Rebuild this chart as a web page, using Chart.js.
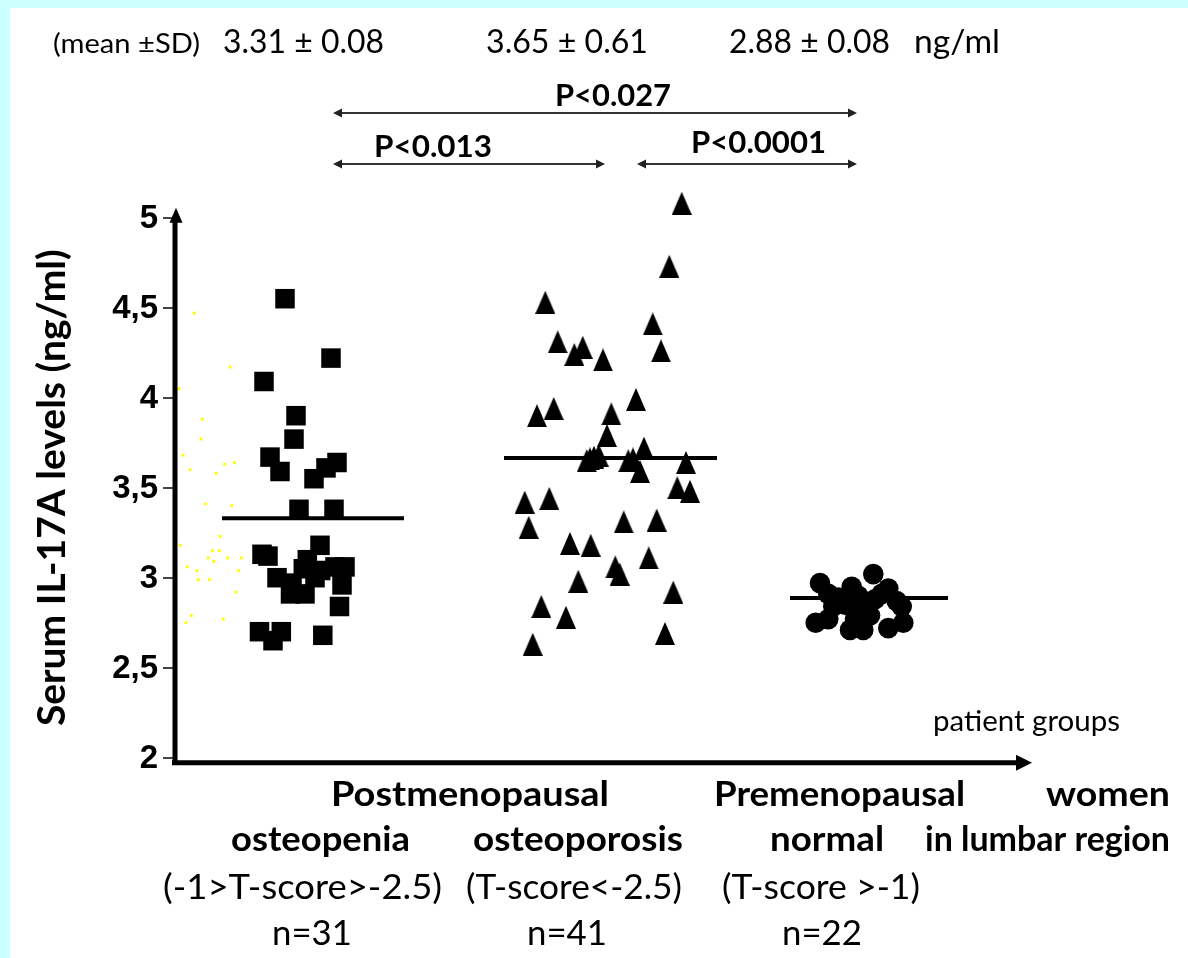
<!DOCTYPE html>
<html lang="en">
<head>
    <meta charset="UTF-8">
    <title>Serum IL-17A levels</title>
    <script src="https://cdn.jsdelivr.net/npm/chart.js"></script>
    <style>
        body {
            margin: 0;
            background: #ccffff;
        }
        canvas {
            display: block;
        }
    </style>
</head>
<body>
    <canvas id="il17Chart" width="1188" height="958"></canvas>

    <script>
        // Group names and summary values shown on the figure
        const groupNames = ['Postmenopausal osteopenia', 'Postmenopausal osteoporosis', 'Premenopausal normal'];
        const groupSizes = [31, 41, 22];
        const meanLevels = [3.33, 3.665, 2.887];          // where the mean bars sit
        const meanLabels = ['3.31 ± 0.08', '3.65 ± 0.61', '2.88 ± 0.08'];
        const yTickLabels = ['2', '2,5', '3', '3,5', '4', '4,5', '5'];

        // Horizontal spread of each group (x is only a jitter position)
        const meanSpan = [[0.47, 2.29], [3.29, 5.42], [6.15, 7.73]];

        // Osteopenia (squares)
        const osteopeniaPos = [1.10, 1.56, 0.89, 1.21, 1.19, 0.95, 1.05, 1.62, 1.51, 1.39,
            1.24, 1.59, 0.87, 0.93, 1.45, 1.645, 0.845, 1.063, 0.98, 1.478,
            1.02, 1.155, 1.283, 1.323, 1.457, 1.60, 1.70, 1.67, 1.30, 1.17, 1.40];
        const osteopeniaVals = [4.55, 4.22, 4.09, 3.90, 3.77, 3.67, 3.59, 3.64, 3.61, 3.55,
            3.38, 3.38, 3.13, 3.12, 3.18, 2.84, 2.70, 2.70, 2.65, 2.68,
            3.00, 2.91, 3.05, 3.10, 3.04, 3.06, 3.06, 2.96, 2.91, 2.97, 3.00];

        // Osteoporosis (triangles)
        const osteoporosisPos = [5.067, 4.943, 3.703, 4.777, 4.86, 3.827, 3.993, 4.077, 4.28, 4.61,
            3.62, 3.787, 4.363, 4.32, 4.117, 4.19, 4.237, 4.533, 4.58, 4.69,
            4.65, 5.11, 5.023, 5.15, 3.497, 3.743, 3.537, 4.487, 4.817, 3.95,
            4.157, 4.737, 4.403, 4.447, 4.033, 4.983, 3.663, 3.91, 4.90, 3.577, 4.15];
        const osteoporosisVals = [5.08, 4.73, 4.53, 4.41, 4.26, 4.31, 4.24, 4.28, 4.21, 3.99,
            3.90, 3.94, 3.91, 3.79, 3.65, 3.67, 3.68, 3.65, 3.66, 3.72,
            3.59, 3.64, 3.50, 3.48, 3.42, 3.44, 3.28, 3.31, 3.32, 3.19,
            3.18, 3.11, 3.06, 3.02, 2.98, 2.92, 2.84, 2.78, 2.69, 2.63, 3.66];

        // Premenopausal normal (circles)
        const normalPos = [6.45, 6.767, 6.983, 6.533, 7.133, 7.217, 7.267, 6.407, 6.533, 6.75, 6.883,
            7.133, 7.283, 6.583, 6.70, 6.867, 7.00, 6.633, 7.067, 6.833, 6.95, 6.80];
        const normalVals = [2.97, 2.95, 3.02, 2.91, 2.94, 2.87, 2.84, 2.75, 2.77, 2.71, 2.71,
            2.72, 2.75, 2.84, 2.85, 2.85, 2.88, 2.89, 2.91, 2.90, 2.79, 2.77];

        // faint yellow specks left of the first group
        const speckPos = [0.193, 0.553, 0.04, 0.273, 0.26, 0.08, 0.15, 0.593, 0.497, 0.413,
            0.303, 0.567, 0.453, 0.053, 0.373, 0.443, 0.333, 0.387, 0.527, 0.663,
            0.123, 0.22, 0.637, 0.233, 0.343, 0.61, 0.163, 0.11, 0.483];
        const speckVals = [4.47, 4.17, 4.05, 3.88, 3.77, 3.68, 3.60, 3.64, 3.63, 3.58,
            3.41, 3.40, 3.23, 3.18, 3.15, 3.15, 3.11, 3.09, 3.11, 3.11,
            3.06, 3.04, 3.04, 2.99, 2.99, 2.92, 2.79, 2.75, 2.77];

        const toPoints = (xs, ys) => xs.map((x, i) => ({ x: x, y: ys[i] }));
        const meanLine = i => [{ x: meanSpan[i][0], y: meanLevels[i] }, { x: meanSpan[i][1], y: meanLevels[i] }];

        // taller triangle marker like the original
        const triangle = document.createElement('canvas');
        triangle.width = 20;
        triangle.height = 23;
        const tctx = triangle.getContext('2d');
        tctx.beginPath();
        tctx.moveTo(10, 0);
        tctx.lineTo(20, 23);
        tctx.lineTo(0, 23);
        tctx.closePath();
        tctx.fillStyle = '#000';
        tctx.fill();

        function fitText(ctx, text, x, y, width) {
            const w = ctx.measureText(text).width;
            ctx.save();
            ctx.translate(x, y);
            ctx.scale(width / w, 1);
            ctx.fillText(text, 0, 0);
            ctx.restore();
        }

        function head(ctx, x, y, dx, dy, len, half) {
            // arrow tip at (x,y), pointing along (dx,dy)
            ctx.beginPath();
            ctx.moveTo(x, y);
            ctx.lineTo(x - dx * len - dy * half, y - dy * len - dx * half);
            ctx.lineTo(x - dx * len + dy * half, y - dy * len + dx * half);
            ctx.closePath();
            ctx.fill();
        }

        const decor = {
            id: 'decor',
            beforeDraw(chart) {
                const ctx = chart.ctx;
                ctx.save();
                ctx.fillStyle = '#ccffff';
                ctx.fillRect(0, 0, chart.width, chart.height);
                ctx.fillStyle = '#ffffff';
                ctx.fillRect(10, 8, chart.width - 10, chart.height - 8);
                ctx.restore();
            },
            afterDraw(chart) {
                const ctx = chart.ctx;
                const xs = chart.scales.x;
                const ys = chart.scales.y;
                const left = chart.chartArea.left;
                const baseY = ys.getPixelForValue(2) + 5;

                ctx.save();
                // y tick labels, placed on the scale's own ticks
                ctx.fillStyle = '#000';
                ctx.font = 'bold 33px "Liberation Sans", Arial, sans-serif';
                ctx.textAlign = 'right';
                ctx.textBaseline = 'middle';
                ys.ticks.forEach((t, i) => {
                    ctx.fillText(yTickLabels[i], left - 17, ys.getPixelForValue(t.value) + 1);
                });

                // axes with arrow heads
                ctx.strokeStyle = '#000';
                ctx.fillStyle = '#000';
                ctx.lineWidth = 5;
                ctx.beginPath();
                ctx.moveTo(left, baseY + 2);
                ctx.lineTo(left, ys.getPixelForValue(5) - 2);
                ctx.moveTo(left - 3, baseY);
                ctx.lineTo(xs.right - 6, baseY);
                ctx.stroke();
                head(ctx, left + 1, ys.getPixelForValue(5) - 10, 0, -1, 15, 6.5);
                head(ctx, xs.right + 7, baseY, 1, 0, 16, 8);

                // significance arrows
                ctx.strokeStyle = '#333';
                ctx.fillStyle = '#222';
                ctx.lineWidth = 2;
                [[333, 857, 113], [333, 605, 164], [637, 857, 164]].forEach(a => {
                    ctx.beginPath();
                    ctx.moveTo(a[0] + 4, a[2]);
                    ctx.lineTo(a[1] - 4, a[2]);
                    ctx.stroke();
                    head(ctx, a[0], a[2], -1, 0, 9, 4.5);
                    head(ctx, a[1], a[2], 1, 0, 9, 4.5);
                });

                ctx.fillStyle = '#000';
                ctx.textBaseline = 'alphabetic';
                ctx.textAlign = 'left';

                ctx.font = '27px Lato';
                fitText(ctx, '(mean ±SD)', 53, 53, 147);
                ctx.font = '32px Lato';
                fitText(ctx, meanLabels[0], 223, 53, 161);
                fitText(ctx, meanLabels[1], 486, 53, 162);
                fitText(ctx, meanLabels[2], 729, 53, 161);
                fitText(ctx, 'ng/ml', 914, 53, 86);

                ctx.font = 'bold 31px Lato';
                fitText(ctx, 'P<0.027', 555, 106, 116);
                fitText(ctx, 'P<0.013', 374, 157, 118);
                fitText(ctx, 'P<0.0001', 691, 153, 135);

                ctx.font = '28px Lato';
                fitText(ctx, 'patient groups', 933, 731, 187);

                ctx.font = 'bold 34px Lato';
                fitText(ctx, 'Postmenopausal', 331, 806, 278);
                fitText(ctx, 'Premenopausal', 714, 806, 251);
                fitText(ctx, 'women', 1046, 806, 124);
                fitText(ctx, 'osteopenia', 231, 851, 179);
                fitText(ctx, 'osteoporosis', 473, 851, 210);
                fitText(ctx, 'normal', 770, 851, 114);
                fitText(ctx, 'in lumbar region', 925, 851, 245);

                ctx.font = '34px Lato';
                fitText(ctx, '(-1>T-score>-2.5)', 163, 899, 279);
                fitText(ctx, '(T-score<-2.5)', 466, 899, 216);
                fitText(ctx, '(T-score >-1)', 722, 899, 198);
                fitText(ctx, 'n=' + groupSizes[0], 272, 945, 80);
                fitText(ctx, 'n=' + groupSizes[1], 527, 945, 80);
                fitText(ctx, 'n=' + groupSizes[2], 782, 945, 80);
                ctx.restore();
            }
        };

        const ctx = document.getElementById('il17Chart').getContext('2d');
        new Chart(ctx, {
            type: 'scatter',
            data: {
                datasets: [
                    {
                        label: 'specks',
                        data: toPoints(speckPos, speckVals),
                        pointStyle: 'rect',
                        pointRadius: 2,
                        backgroundColor: '#ffff00',
                        borderWidth: 0,
                        clip: false
                    },
                    {
                        label: groupNames[0],
                        data: toPoints(osteopeniaPos, osteopeniaVals),
                        pointStyle: 'rect',
                        pointRadius: 13.8,
                        backgroundColor: '#000',
                        borderWidth: 0,
                        clip: false
                    },
                    {
                        label: groupNames[1],
                        data: toPoints(osteoporosisPos, osteoporosisVals),
                        pointStyle: triangle,
                        pointRadius: 16,
                        backgroundColor: '#000',
                        borderWidth: 0,
                        clip: false
                    },
                    {
                        label: groupNames[2],
                        data: toPoints(normalPos, normalVals),
                        pointStyle: 'circle',
                        pointRadius: 10.3,
                        backgroundColor: '#000',
                        borderWidth: 0,
                        clip: false
                    },
                    ...[0, 1, 2].map(i => ({
                        label: 'mean ' + groupNames[i],
                        data: meanLine(i),
                        showLine: true,
                        borderColor: '#000',
                        borderWidth: 4,
                        pointRadius: 0,
                        clip: false
                    }))
                ]
            },
            options: {
                responsive: false,
                animation: false,
                events: [],
                layout: {
                    padding: { top: 217.7, bottom: 200.3, left: 0, right: 163 }
                },
                plugins: {
                    legend: { display: false },
                    tooltip: { enabled: false }
                },
                scales: {
                    x: {
                        type: 'linear',
                        min: 0,
                        max: 8.5,
                        display: false
                    },
                    y: {
                        type: 'linear',
                        min: 2,
                        max: 5,
                        afterFit: scale => { scale.width = 175; },
                        ticks: {
                            stepSize: 0.5,
                            display: false
                        },
                        grid: {
                            drawOnChartArea: false,
                            drawTicks: true,
                            tickLength: 12,
                            color: '#444',
                            lineWidth: 2
                        },
                        border: { display: false },
                        title: {
                            display: true,
                            text: 'Serum IL-17A levels (ng/ml)',
                            color: '#000',
                            font: { family: 'Lato', weight: 'bold', size: 39 },
                            padding: { top: 29, bottom: 0 }
                        }
                    }
                }
            },
            plugins: [decor]
        });
    </script>
</body>
</html>
